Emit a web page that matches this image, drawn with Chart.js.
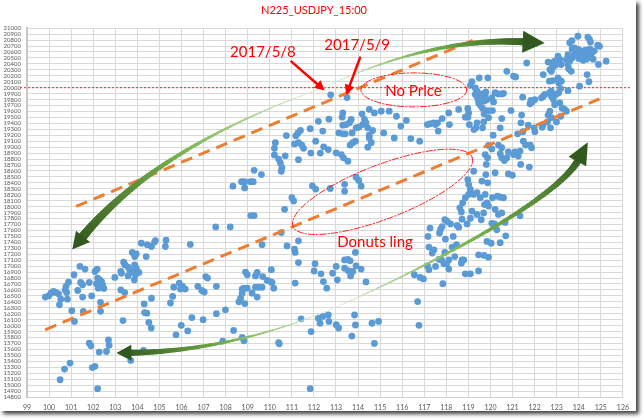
<!DOCTYPE html>
<html>
<head>
<meta charset="utf-8">
<script src="https://cdn.jsdelivr.net/npm/chart.js@4.4.0/dist/chart.umd.min.js"></script>
<style>
  html, body { margin: 0; padding: 0; background: #fff; }
  #frame { position: absolute; left: 0; top: 0; width: 636px; height: 411px; background: #fff;
           box-shadow: 3px 3px 4px rgba(0, 0, 0, 0.75); }
  canvas { display: block; }
</style>
</head>
<body>
<div id="frame"><canvas id="chart" width="636" height="411"></canvas></div>
<script>
// USDJPY (x) vs N225 (y) at 15:00
const title = 'N225_USDJPY_15:00';
const xMin = 99, xMax = 126, xStep = 1;
const yMin = 14800, yMax = 21000, yStep = 100;

const mayPoints = [[112.76, 19880], [113.5, 19835]];

const upperLeftPts = [
  [112.2,19435],[112.68,19470],[111.83,19310],[111.39,19280],[111.27,19235],[111.18,19190],[110.75,19195],
  [112.4,19270],[112.08,19100],[112.44,19005],[112.65,18960],[111.12,19055],[111.3,19075],[111.45,19035],
  [111.53,18980],[111.86,18900],[112.29,18900],[110.25,19075],[110.21,18980],[110.21,18870],[110.7,18855],
  [110.4,18800],[110.48,18735],[110.55,18655],[110.52,18595],[111.3,18790],[109.29,18610],[109.62,18540],
  [108.33,18345],[108.72,18420],[108.86,18420],[108.86,18315],[109.13,18420],[109.25,18420],[111.93,18350],
  [112.08,18295],[111.0,18150],[111.08,18095],[110.67,17955],[109.14,17850],[109.29,17850]
];

const topRightPts = [
  [123.96,20865],[123.69,20790],[123.59,20755],[124.41,20850],[124.49,20810],[124.53,20770],[124.86,20715],
  [124.94,20695],[125.24,20445],[124.89,20390],[123.81,20670],
  [123.7,20650],[123.85,20620],[124.0,20640],[124.15,20610],[124.3,20630],[124.45,20600],[124.6,20590],
  [123.8,20560],[123.95,20540],[124.1,20570],[124.25,20540],[124.4,20560],[124.55,20520],[124.65,20480],
  [123.7,20500],[124.0,20490],[124.35,20480],[124.2,20460],[123.9,20600],[124.5,20650],[124.7,20620],
  [123.51,20555],[123.44,20475],[123.59,20445],[123.06,20530],[123.14,20475],[122.91,20445],[122.76,20415],
  [122.61,20430],[123.21,20390],[122.99,20390],[122.84,20345],[122.69,20305],[122.76,20275],[123.51,20390],
  [123.54,20320],[123.66,20275],[122.39,20220],[122.67,20110],[122.82,20120],[123.06,20165],[123.09,20080],
  [123.21,20110],[124.04,20025],[124.38,20220],[124.46,20100],[123.51,19950],[123.18,19985],[123.09,19915],
  [122.97,19885],[122.76,19940],[122.67,19915],[122.76,19855],[122.85,19800],[122.91,19715],[123.14,19745],
  [123.24,19660],[123.36,19635],[123.44,19605],[122.39,19855],[122.31,19830],[122.46,19885],[121.64,20415],
  [121.04,20195],[121.14,20180],[120.74,20275],[121.46,19840],[121.83,19785],[121.89,19760],[121.79,19730],
  [122.01,19800],[122.69,19605],[122.61,19540],[122.76,19495],[122.58,19425],[122.39,19380],[122.34,19335],
  [122.72,19325],[122.99,19425],[123.18,19520]
];

const midUpperPts = [
  [119.49,20165],[119.88,20165],[119.16,20100],[119.09,20040],[119.31,19995],[119.39,19940],[119.58,19895],
  [119.76,19885],[119.79,19930],[119.61,19830],[119.42,19820],[119.46,19745],[119.54,19705],[119.73,19775],
  [119.84,19800],[119.31,19885],[120.21,19915],[120.36,19895],[120.51,19895],[120.59,19905],[120.06,19830],
  [120.14,19760],[119.64,19650],[119.76,19615],[119.91,19615],[120.09,19615],[119.71,19560],[118.56,19635],
  [118.97,19650],[119.01,19575],[118.86,19505],[118.98,19505],[119.04,19380],[119.39,19410],[119.69,19425],
  [119.34,19325],[119.64,19325],[119.25,19295],[119.91,19495],[120.51,19480],[120.93,19615],[120.12,19200],
  [120.44,19325],[121.41,19540],[121.38,19410],[121.23,19225],[121.47,19260],[121.71,19370],[121.98,19325],
  [122.01,19260],[121.49,19100],[121.59,19035],[121.8,19035],[121.86,18990]
];

const centerUpperPts = [
  [113.31,19575],[113.28,19505],[113.69,19465],[113.61,19410],[113.46,19380],[113.31,19370],[113.91,19325],
  [114.03,19335],[114.21,19380],[114.36,19410],[114.44,19325],[114.29,19465],[114.18,19560],[114.51,19635],
  [114.74,19575],[115.05,19605],[115.41,19605],[115.74,19520],[113.13,19240],[113.31,19225],[113.42,19225],
  [113.73,19240],[114.66,19280],[114.51,19200],[115.16,19240],[115.94,19355],[116.19,19450],[113.64,19035],
  [113.76,19075],[113.88,19100],[114.51,19155],[114.6,19075],[114.44,19000],[115.64,19155],[116.39,19145],
  [116.79,19100],[113.01,18905],[113.24,18875],[113.34,18820],[113.54,18765],[117.14,19380],[117.24,19390],
  [117.41,19410],[117.51,19380],[117.6,19410],[117.63,19270],[117.81,19480],[118.11,19575],[118.14,19380],
  [112.74,18305],[113.39,18375],[113.39,18260],[113.91,18495],[114.03,18440],[114.14,18345]
];

const rightMidPts = [
  [119.91,19030],[120.06,18970],[120.36,19035],[120.51,18990],[119.76,18875],[119.87,18820],[119.81,18710],
  [119.79,18540],[120.44,18890],[120.51,18820],[120.63,18775],[120.74,18820],[120.81,18920],[121.04,18875],
  [121.11,18920],[121.23,18905],[121.34,18935],[121.26,18850],[121.37,18710],[121.76,18665],[119.24,18595],
  [119.61,18430],[119.87,18400],[120.21,18570],[120.81,18550],[120.99,18530],[118.97,18455],[119.01,18375],
  [119.09,18290],[119.01,18205],[118.86,18150],[118.74,18065],[118.61,17980],[118.68,17910],[119.24,18205],
  [119.39,18235],[119.54,18150],[119.76,18205],[119.84,18065],[119.73,18035],[119.91,18010],[120.09,18150],
  [120.32,18175],[120.47,18160],[120.59,18150],[120.21,17955],[120.36,17870],[120.51,17895],[119.69,17895],
  [119.16,17925],[119.39,17870]
];

const lowerLeftPts = [
  [99.83,16480],[99.98,16500],[100.08,16545],[100.2,16575],[100.32,16555],[100.43,16535],[100.47,16350],
  [100.53,16445],[100.73,16600],[100.8,16555],[100.77,16660],[100.88,16730],[100.83,16445],[101.13,16855],
  [101.4,16995],[101.63,16950],[101.3,16590],[101.43,16725],[101.52,16685],[101.52,16480],[101.82,16725],
  [101.93,16500],[102.08,16910],[102.18,16950],[102.2,16800],[102.3,16770],[102.38,16740],[102.42,16685],
  [102.48,16625],[102.23,16630],[102.15,16705],[102.33,16390],[102.33,16240],[101.03,16250],[101.15,16070],
  [101.55,16240],[100.5,15090],[100.7,15270],[100.95,15370],[101.82,15705],[101.9,15660],[102.27,15555],
  [102.6,15565],[102.69,15760],[102.72,15670],[101.96,15295],[102.08,15315],[102.2,14940]
];

const midLowerPts = [
  [102.98,16810],[103.25,16910],[103.28,16880],[103.38,17065],[103.44,17020],[103.58,16985],[103.65,16940],
  [103.58,16835],[103.68,16895],[103.8,16900],[103.86,16770],[103.92,16855],[104.01,16900],[103.95,16965],
  [104.07,16895],[103.88,17020],[103.25,16600],[103.43,16555],[103.35,16085],[103.77,17230],[103.88,17160],
  [103.95,17205],[104.4,17160],[104.18,17385],[104.45,17360],[104.64,17330],[104.78,17405],[104.82,17430],
  [105.3,17435],[105.27,17330],[106.4,17365],[104.31,16365],[104.33,16220],[104.43,16210],[104.52,16055],
  [104.63,15960],[104.64,16460],[104.28,15585],[103.7,15415],[105.5,16380],[105.6,16490],[105.65,16645],
  [105.9,16715],[105.95,16615],[106.05,16660],[106.17,16615],[105.75,15845],[105.99,16005],[106.28,15910],
  [106.47,16135],[106.98,16100],[106.74,16660],[106.92,16590],[107.03,16565],[107.1,16825],[107.18,16800],
  [107.58,16200],[107.99,16265],[107.58,16660],[107.55,17660],[108.21,17660],[107.87,15740],[108.36,15920]
];

const midLowerPts2 = [
  [108.6,16400],[108.68,16460],[108.75,16615],[108.87,16370],[108.83,16630],[108.98,16630],[108.75,16545],
  [108.9,16900],[108.98,16855],[109.35,16835],[109.43,16895],[109.68,16825],[109.88,16760],[110.03,16740],
  [110.1,16725],[110.18,16630],[110.07,16940],[109.2,16545],[109.35,16645],[109.43,16480],[109.5,16645],
  [109.65,16645],[108.75,15800],[108.83,15745],[109.65,17360],[110.52,17565],[110.78,17340],[110.4,15715],
  [110.43,15695],[111.12,17285],[111.15,17230],[111.3,17425],[111.3,17060],[111.15,16715],[111.42,16115],
  [111.87,15900],[111.83,14940],[112.05,17040],[112.01,16920],[112.32,16870],[112.43,16740],[112.58,16630],
  [112.2,16125],[112.28,16040],[112.4,16155],[112.65,16180],[112.68,16070]
];

const lowerRightPts = [
  [113.01,16015],[113.12,15960],[112.85,16880],[113.01,16995],[113.06,16770],[113.39,17105],[113.54,17115],
  [113.64,17090],[113.88,17230],[113.91,17005],[113.39,16965],[113.54,16925],[113.69,16905],[113.76,16910],
  [113.66,16835],[114.14,16950],[114.36,16735],[113.84,16180],[113.88,16010],[113.72,15825],[114.63,16040],
  [114.93,16070],[114.74,15700],[116.55,16855],[116.81,16810],[116.96,16785],[116.7,16405],[116.76,16005],
  [117.14,17005],[117.21,16940],[117.51,16995],[117.84,16705],[117.78,17105],[117.89,17040],[118.01,17040],
  [118.11,16950],[117.66,17115],[117.17,17500],[117.21,17320],[117.36,17220],[117.44,17275],[117.69,17555],
  [117.74,17620],[117.81,17665],[117.93,17230],[117.96,17455],[118.11,17105],[118.26,17320],[118.31,17500],
  [118.46,17360],[118.38,17160],[117.26,17640],[117.93,17780],[118.04,17750],[118.19,17710],[118.49,17685],
  [118.56,17655],[118.71,17790],[118.94,17710],[119.09,17805],[119.58,17780],[119.84,17415],[120.03,17385],
  [120.06,17720],[120.18,17710],[120.29,17610],[120.44,17395],[120.66,17735],[120.69,17510],[121.34,17845],
  [118.68,17050],[118.71,17105],[118.79,17105],[118.86,16870],[119.09,16870],[119.46,16920],[119.46,17190],
  [119.71,17180],[119.91,17150]
];

// trend channel (orange dashed)
const upperTrend = [[101.22, 18003], [119.39, 20825]];
const lowerTrend = [[99.82, 15930], [124.94, 19812]];

// annotation geometry, in data units
const priceLine = 20000;
const arcs = [
  { path: [[112.41,19997],[107.36,19336],[103.71,18496],[101.48,17475]], w: 9, head: 15, hw: 9 },
  { path: [[112.41,19997],[115.67,20568],[118.71,20825],[121.55,20770]], w: 7, head: 20, hw: 11 },
  { path: [[112.73,16266],[109.67,15800],[106.64,15560],[103.64,15543]], w: 6, head: 13, hw: 8 },
  { path: [[112.73,16266],[116.06,16803],[122.9,18047],[123.98,18787]], w: 7, head: 20, hw: 10 }
];
const notes = [
  { text: '2017/5/8', at: [109.69, 20602] },
  { text: '2017/5/9', at: [113.96, 20719] },
  { text: 'No Price', at: [116.51, 19946] },
  { text: 'Donuts ling', at: [114.77, 17408] }
];
const pointers = [
  [[110.98, 20439], [112.49, 19951]],
  [[114.09, 20506], [113.46, 19879]]
];
const rings = [
  { at: [116.53, 19963], rx: 53, ry: 17, rot: 0 },
  { at: [115.11, 18249], rx: 96, ry: 27, rot: -21 }
];

const allPts = [].concat(mayPoints, upperLeftPts, topRightPts, midUpperPts, centerUpperPts,
  rightMidPts, lowerLeftPts, midLowerPts, midLowerPts2, lowerRightPts);
const xy = arr => arr.map(p => ({ x: p[0], y: p[1] }));

function mix(a, b, t) {
  return 'rgb(' + a.map((v, i) => Math.round(v + (b[i] - v) * t)).join(',') + ')';
}
const light = [222, 238, 210], mid = [120, 180, 80], dark = [58, 100, 34];

function cubic(p, t) {
  const u = 1 - t;
  const a = u * u * u, b = 3 * u * u * t, c = 3 * u * t * t, d = t * t * t;
  return [a * p[0][0] + b * p[1][0] + c * p[2][0] + d * p[3][0],
          a * p[0][1] + b * p[1][1] + c * p[2][1] + d * p[3][1]];
}

const annotate = {
  id: 'annotate',
  beforeDatasetsDraw(chart) {
    const { ctx, chartArea, scales: { y } } = chart;
    const py = y.getPixelForValue(priceLine);
    ctx.save();
    ctx.strokeStyle = '#ff2020';
    ctx.lineWidth = 1;
    ctx.setLineDash([2, 2]);
    ctx.beginPath();
    ctx.moveTo(chartArea.left - 7, py);
    ctx.lineTo(chartArea.right + 9, py);
    ctx.stroke();
    ctx.restore();
  },
  afterDatasetsDraw(chart) {
    const { ctx, scales: { x, y } } = chart;
    const px = p => [x.getPixelForValue(p[0]), y.getPixelForValue(p[1])];
    ctx.save();

    // green curved arrows
    arcs.forEach(a => {
      const p = a.path.map(px);
      const n = 60;
      ctx.lineCap = 'round';
      let prev = cubic(p, 0);
      for (let i = 1; i <= n; i++) {
        const t = i / n;
        const cur = cubic(p, t);
        ctx.strokeStyle = t < 0.5 ? mix(light, mid, t * 2) : mix(mid, dark, (t - 0.5) * 2);
        ctx.lineWidth = 0.6 + (a.w - 0.6) * Math.pow(t, 1.4);
        ctx.beginPath();
        ctx.moveTo(prev[0], prev[1]);
        ctx.lineTo(cur[0], cur[1]);
        ctx.stroke();
        prev = cur;
      }
      const end = p[3];
      let dx = end[0] - p[2][0], dy = end[1] - p[2][1];
      const len = Math.hypot(dx, dy);
      dx /= len; dy /= len;
      ctx.fillStyle = mix(dark, [40, 75, 25], 0.5);
      ctx.beginPath();
      ctx.moveTo(end[0] + dx * a.head, end[1] + dy * a.head);
      ctx.lineTo(end[0] - dy * a.hw - dx * 2, end[1] + dx * a.hw - dy * 2);
      ctx.lineTo(end[0] + dy * a.hw - dx * 2, end[1] - dx * a.hw - dy * 2);
      ctx.closePath();
      ctx.fill();
    });

    // dash-dot rings
    ctx.strokeStyle = '#ff2020';
    ctx.lineWidth = 1;
    ctx.setLineDash([6, 2, 1.5, 2]);
    rings.forEach(r => {
      const c = px(r.at);
      ctx.beginPath();
      ctx.ellipse(c[0], c[1], r.rx, r.ry, r.rot * Math.PI / 180, 0, Math.PI * 2);
      ctx.stroke();
    });
    ctx.setLineDash([]);

    // red pointer arrows
    ctx.strokeStyle = '#ff0000';
    ctx.fillStyle = '#ff0000';
    ctx.lineWidth = 2.5;
    pointers.forEach(pr => {
      const s = px(pr[0]), e = px(pr[1]);
      let dx = e[0] - s[0], dy = e[1] - s[1];
      const len = Math.hypot(dx, dy);
      dx /= len; dy /= len;
      ctx.beginPath();
      ctx.moveTo(s[0], s[1]);
      ctx.lineTo(e[0] - dx * 7, e[1] - dy * 7);
      ctx.stroke();
      ctx.beginPath();
      ctx.moveTo(e[0], e[1]);
      ctx.lineTo(e[0] - dx * 10 - dy * 5, e[1] - dy * 10 + dx * 5);
      ctx.lineTo(e[0] - dx * 10 + dy * 5, e[1] - dy * 10 - dx * 5);
      ctx.closePath();
      ctx.fill();
    });

    // labels
    ctx.font = '15px Lato';
    ctx.textAlign = 'center';
    ctx.textBaseline = 'middle';
    notes.forEach(nt => {
      const c = px(nt.at);
      ctx.fillText(nt.text, c[0], c[1]);
    });
    ctx.restore();
  }
};

new Chart(document.getElementById('chart'), {
  type: 'scatter',
  data: {
    datasets: [
      {
        data: xy(upperTrend), showLine: true, borderColor: '#ED7D31', borderWidth: 3,
        borderDash: [12, 7], pointRadius: 0
      },
      {
        data: xy(lowerTrend), showLine: true, borderColor: '#ED7D31', borderWidth: 3,
        borderDash: [12, 7], pointRadius: 0
      },
      {
        data: xy(allPts), backgroundColor: '#5B9BD5', borderWidth: 0, pointRadius: 3.4
      }
    ]
  },
  options: {
    responsive: false,
    animation: false,
    layout: { padding: { right: 8 } },
    plugins: {
      legend: { display: false },
      tooltip: { enabled: false },
      title: {
        display: true, text: title, color: '#ff0000',
        font: { family: 'Lato', size: 11, weight: 'normal' },
        padding: { top: 4, bottom: 11 }
      }
    },
    scales: {
      x: {
        type: 'linear', min: xMin, max: xMax,
        afterFit: s => { s.height = 14; },
        grid: { color: '#d9d9d9', drawTicks: false },
        border: { color: '#d0d0d0', width: 1 },
        ticks: { stepSize: xStep, autoSkip: false, padding: 7, color: '#595959',
                 font: { family: 'Lato', size: 7 }, callback: v => String(v) }
      },
      y: {
        type: 'linear', min: yMin, max: yMax,
        afterFit: s => { s.width = 27; },
        grid: { color: '#d9d9d9', drawTicks: false },
        border: { color: '#c8c8c8', width: 2 },
        ticks: { stepSize: yStep, autoSkip: false, padding: 6, color: '#595959',
                 font: { family: 'Lato', size: 6 }, callback: v => String(v) }
      }
    }
  },
  plugins: [annotate]
});
</script>
</body>
</html>
